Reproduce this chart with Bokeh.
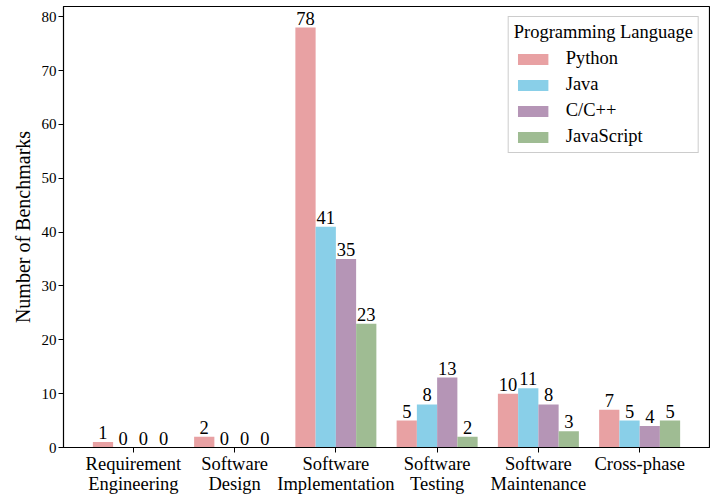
from bokeh.plotting import figure
from bokeh.models import ColumnDataSource, FixedTicker, Range1d, Legend, LegendItem, LinearAxis
from bokeh.core.properties import value
from bokeh.embed import file_html
from bokeh.resources import INLINE

categories = ["Requirement\nEngineering", "Software\nDesign", "Software\nImplementation",
              "Software\nTesting", "Software\nMaintenance", "Cross-phase"]
languages = ["Python", "Java", "C/C++", "JavaScript"]
python_vals = [1, 2, 78, 5, 10, 7]
java_vals = [0, 0, 41, 8, 11, 5]
cpp_vals = [0, 0, 35, 13, 8, 4]
js_vals = [0, 0, 23, 2, 3, 5]
y_ticks = [0, 10, 20, 30, 40, 50, 60, 70, 80]
colors = ["#e8a1a3", "#89cfe8", "#b595b6", "#9fbc93"]

FONT = "Liberation Serif"
FS = "18.5px"

p = figure(width=710, height=496, output_backend="svg", toolbar_location=None,
           x_range=Range1d(-0.69, 5.69), y_range=Range1d(0, 81.9),
           min_border_left=63, min_border_right=1, min_border_top=6, min_border_bottom=0)
p.xgrid.visible = False
p.ygrid.visible = False
p.outline_line_color = "black"
p.outline_line_width = 1.2

series = [python_vals, java_vals, cpp_vals, js_vals]
offsets = [-0.3, -0.1, 0.1, 0.3]
items = []
for lang, vals, col, off in zip(languages, series, colors, offsets):
    xs = [i + off for i in range(len(categories))]
    src = ColumnDataSource(dict(x=xs, top=vals, label=[str(v) for v in vals]))
    r = p.vbar(x="x", top="top", width=0.2, source=src, fill_color=col, line_color=None)
    items.append(LegendItem(label=lang, renderers=[r]))
    p.text(x="x", y="top", text="label", source=src, text_align="center",
           text_baseline="bottom", y_offset=-3, text_font=value(FONT),
           text_font_size=FS, text_color="black")

legend = Legend(items=items, location="top_right", title="Programming Language",
                title_text_font=FONT, title_text_font_size=FS, title_text_font_style="normal",
                title_text_color="black",
                label_text_font=FONT, label_text_font_size=FS, label_text_color="black",
                glyph_width=38, glyph_height=14, label_standoff=14, spacing=5,
                padding=5, margin=10, border_line_color="#cccccc", border_line_width=1,
                border_line_alpha=1, background_fill_alpha=0.9)
p.add_layout(legend)

# category labels: first line on the main axis, second line on a tick-less axis below it
lines = [c.split("\n") for c in categories]
line1 = [l[0] for l in lines]
line2 = {i: l[1] for i, l in enumerate(lines) if len(l) > 1}

p.xaxis.ticker = FixedTicker(ticks=list(range(len(categories))))
p.xaxis.major_label_overrides = {i: t for i, t in enumerate(line1)}
p.yaxis.ticker = FixedTicker(ticks=y_ticks)
p.yaxis.axis_label = "Number of Benchmarks"
for ax in [p.xaxis[0], p.yaxis[0]]:
    ax.axis_line_color = "black"
    ax.major_tick_line_color = "black"
    ax.major_tick_out = 5
    ax.major_tick_in = 0
    ax.minor_tick_line_color = None
    ax.major_label_text_font = FONT
    ax.major_label_text_color = "black"
    ax.axis_label_text_font = FONT
    ax.axis_label_text_font_style = "normal"
    ax.axis_label_text_color = "black"
p.xaxis.major_label_text_font_size = FS
p.xaxis.major_label_standoff = 1
p.yaxis.major_label_text_font_size = "15px"
p.yaxis.axis_label_text_font_size = "20px"
p.yaxis.axis_label_standoff = 5
p.yaxis.major_label_standoff = 2

ax2 = LinearAxis(ticker=FixedTicker(ticks=list(line2.keys())),
                 major_label_overrides=line2,
                 axis_line_color=None, major_tick_line_color=None, minor_tick_line_color=None,
                 major_tick_out=0, major_tick_in=0, major_label_standoff=-3,
                 major_label_text_font=FONT, major_label_text_font_size=FS,
                 major_label_text_color="black")
p.add_layout(ax2, "below")

open("out.html", "w").write(file_html(p, INLINE))
